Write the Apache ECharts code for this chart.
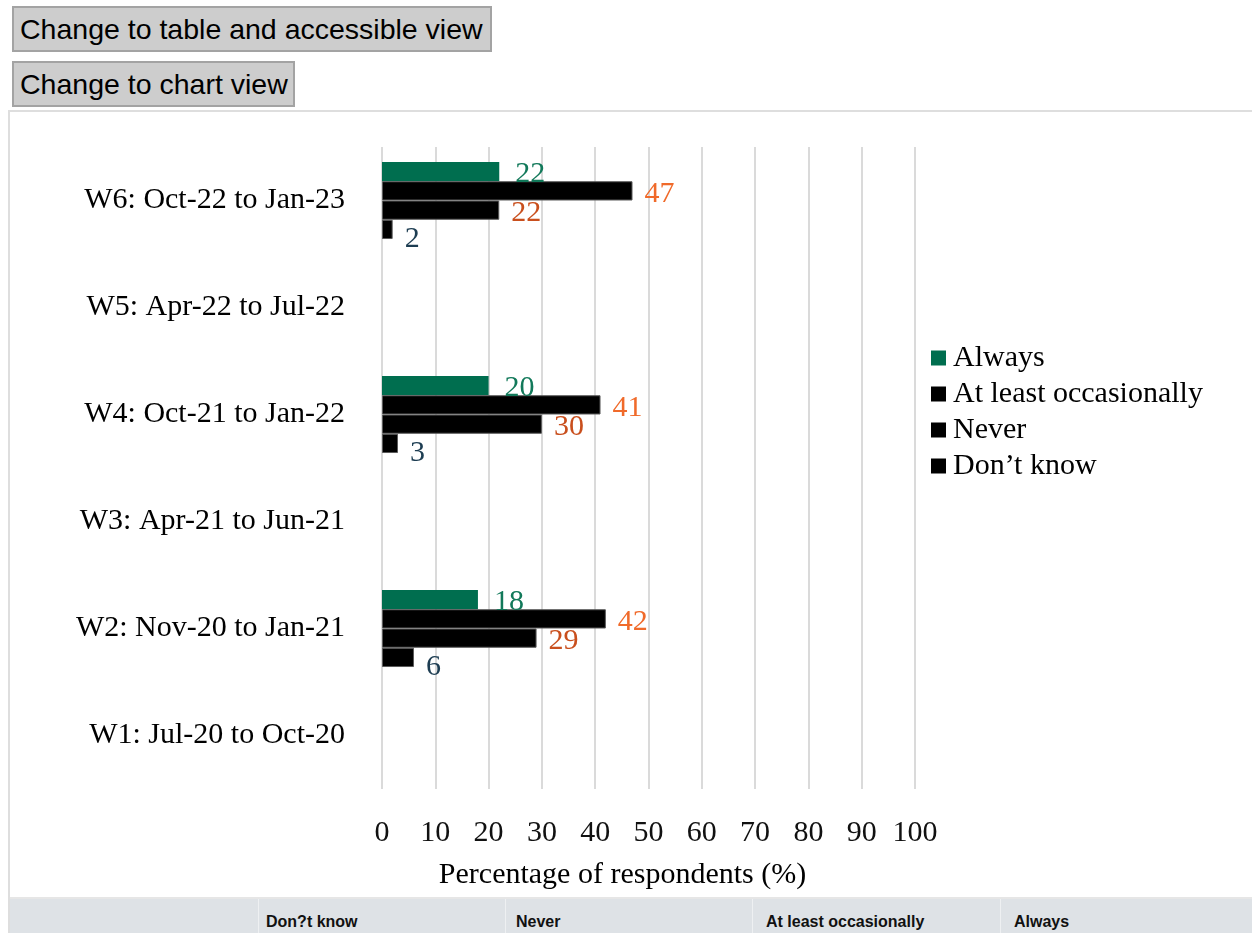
<!DOCTYPE html>
<html>
<head>
<meta charset="utf-8">
<script src="https://cdn.jsdelivr.net/npm/echarts@6/dist/echarts.min.js"></script>
<style>
  html, body { margin: 0; padding: 0; width: 1252px; height: 933px; overflow: hidden; background: #fff; }
  .btn {
    position: absolute; box-sizing: border-box; left: 12px; height: 46px;
    background: #cdcdcd; border: 2px solid #a3a3a3;
    font-family: "Liberation Sans", Arial, sans-serif; font-size: 28.5px; color: #000;
    line-height: 42px; padding-left: 6px; white-space: nowrap;
  }
  #frame {
    position: absolute; left: 8px; top: 110px; width: 1300px; height: 860px;
    box-sizing: border-box; border: 2px solid #dedede;
  }
  #chart { position: absolute; left: 10px; top: 112px; width: 1242px; height: 785px; }
  #thead {
    position: absolute; left: 10px; top: 897px; width: 1300px; height: 50px;
    background: #dee2e6; border-top: 2px solid #e6e6e6; box-sizing: border-box;
  }
  .cell {
    position: absolute; top: 0; height: 50px; border-left: 1px solid #eef0f2;
    font-family: "Liberation Sans", Arial, sans-serif; font-weight: bold; font-size: 16px;
    color: #111; line-height: 46px; white-space: nowrap;
  }
</style>
</head>
<body>
<div class="btn" style="top:6px;width:480px;">Change to table and accessible view</div>
<div class="btn" style="top:61px;width:283px;">Change to chart view</div>
<div id="frame"></div>
<div id="chart"></div>
<div id="thead"></div>
<script>
// Survey waves, bottom to top on the category axis
const waves = [
  'W1: Jul-20 to Oct-20',
  'W2: Nov-20 to Jan-21',
  'W3: Apr-21 to Jun-21',
  'W4: Oct-21 to Jan-22',
  'W5: Apr-22 to Jul-22',
  'W6: Oct-22 to Jan-23'
];
// Percentage of respondents per answer (no data for W1, W3, W5)
const always       = [null, 18, null, 20, null, 22];
const occasionally = [null, 42, null, 41, null, 47];
const never        = [null, 29, null, 30, null, 22];
const dontKnow     = [null, 6,  null, 3,  null, 2];
const xTicks = [0, 10, 20, 30, 40, 50, 60, 70, 80, 90, 100];

const legendOrder = ['Always', 'At least occasionally', 'Never', 'Don\u2019t know'];
const tableHeads = ['Don?t know', 'Never', 'At least occasionally', 'Always'];

// Table header strip below the chart
const thead = document.getElementById('thead');
const cellLeft = [248, 495, 742, 990];
const textPad = [7, 10, 13, 13];
tableHeads.forEach((t, i) => {
  const c = document.createElement('div');
  c.className = 'cell';
  c.style.left = cellLeft[i] + 'px';
  c.style.width = (i < 3 ? cellLeft[i + 1] - cellLeft[i] : 300) + 'px';
  c.style.paddingLeft = textPad[i] + 'px';
  c.textContent = t;
  thead.appendChild(c);
});

const serif = '"Liberation Serif", "Times New Roman", serif';
const FS = 30;
const chart = echarts.init(document.getElementById('chart'));

function barSeries(name, data, color, labelColor, labelExtra) {
  return {
    name: name,
    type: 'bar',
    data: data,
    barGap: '0%',
    barCategoryGap: '28%',
    itemStyle: color === '#000'
      ? { color: color, borderColor: '#5a5a5a', borderWidth: 1 }
      : { color: color },
    label: Object.assign({
      show: true,
      position: 'right',
      distance: 12,
      offset: [0, 3],
      color: labelColor,
      fontFamily: serif,
      fontSize: FS
    }, labelExtra || {}),
    emphasis: { disabled: true },
    animation: false
  };
}

// Series listed top-to-bottom within each wave
const series = [
  barSeries('Always', always, '#006e4f', '#12795a', { distance: 16 }),
  barSeries('At least occasionally', occasionally, '#000', '#f06a2a'),
  barSeries('Never', never, '#000', '#c94f1d'),
  barSeries('Don\u2019t know', dontKnow, '#000', '#1d3d52', { offset: [0, 10] })
];

chart.setOption({
  animation: false,
  grid: { left: 372, top: 35, width: 533, height: 642 },
  legend: {
    orient: 'vertical',
    left: 916,
    top: 226,
    data: legendOrder,
    icon: 'rect',
    itemWidth: 15,
    itemHeight: 15,
    itemGap: 6,
    itemStyle: { borderWidth: 0 },
    textStyle: { fontFamily: serif, fontSize: FS, color: '#000', padding: [0, 0, 0, 2] },
    selectedMode: false
  },
  xAxis: {
    type: 'value',
    min: xTicks[0],
    max: xTicks[xTicks.length - 1],
    interval: xTicks[1] - xTicks[0],
    axisLine: { show: false },
    axisTick: { show: false },
    splitLine: { show: true, lineStyle: { color: '#dadada', width: 2 } },
    axisLabel: { fontFamily: serif, fontSize: FS, color: '#111', margin: 29 },
    name: 'Percentage of respondents (%)',
    nameLocation: 'middle',
    nameGap: 71,
    nameTextStyle: { fontFamily: serif, fontSize: FS, color: '#000', padding: [0, 52, 0, 0] }
  },
  yAxis: {
    type: 'category',
    data: waves,
    axisLine: { show: false },
    axisTick: { show: false },
    splitLine: { show: false },
    axisLabel: { fontFamily: serif, fontSize: FS, color: '#000', margin: 37 }
  },
  series: series
});
</script>
</body>
</html>
